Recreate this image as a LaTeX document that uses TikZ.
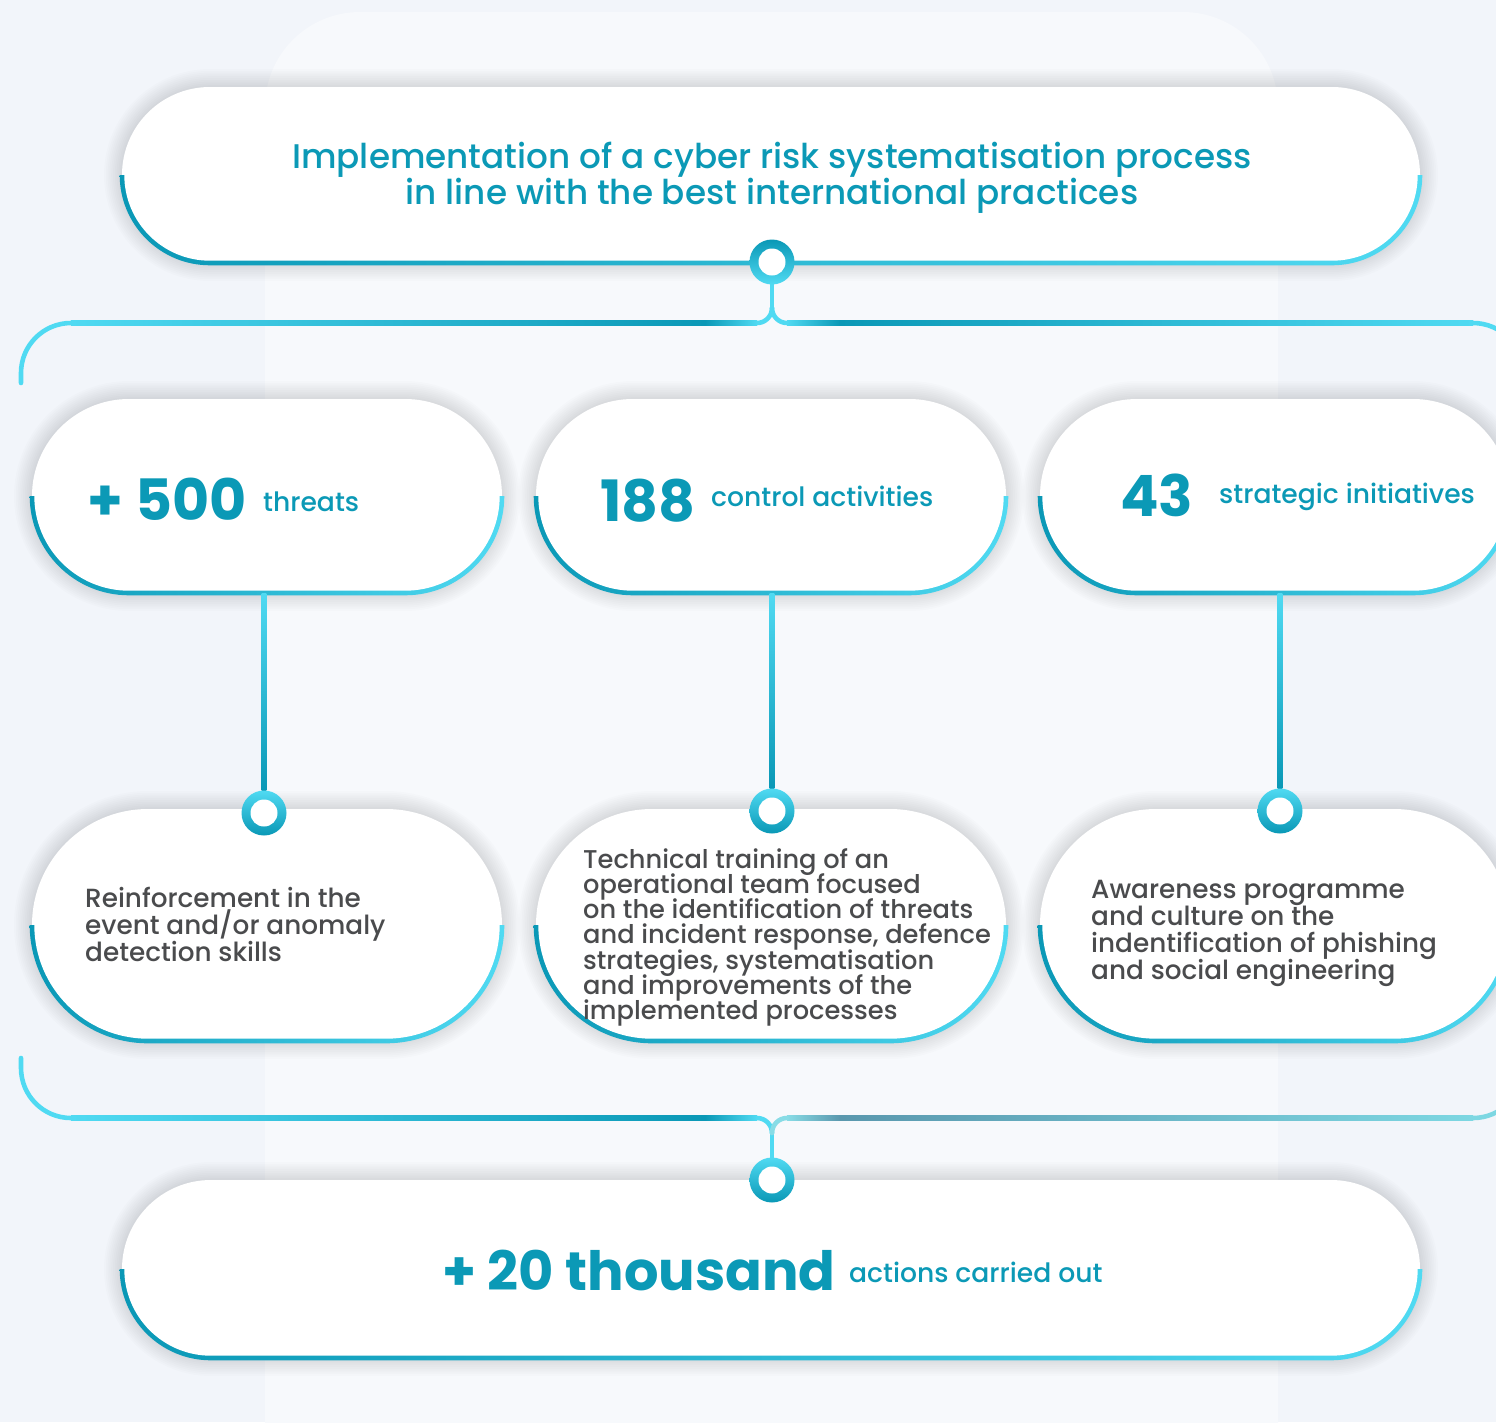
\documentclass[tikz,border=0pt]{standalone}
\usepackage{fontspec}
\setmainfont{Poppins}
\newfontfamily\medfont{Poppins Medium}
\usetikzlibrary{calc,shapes.misc}
\definecolor{cD}{HTML}{0A98B6}
\definecolor{cL}{HTML}{50DAF2}
\definecolor{cT}{HTML}{0B99B6}
\definecolor{cG}{HTML}{4A4B4D}
\definecolor{bgc}{HTML}{F2F5FA}
\definecolor{panelc}{HTML}{F7F9FC}
\definecolor{gT}{HTML}{5A98AE}
\definecolor{gL}{HTML}{88DCE6}
\definecolor{gE}{HTML}{7DD7E2}
\protected\def\tightlines{\lineskiplimit=-100pt\relax}

\newcommand\pill[5]{% name, x1, ytop, x2, ybot (image px, y down)
  \pgfmathsetmacro\pr{(#5-#3)/2}
  \pgfmathsetmacro\pw{#4-#2}
  \pgfmathsetmacro\ph{#5-#3}
  \foreach \k in {1,...,10}{%
    \pgfmathsetmacro\rr{\pr+\k*1.8}
    \fill[black,opacity=0.010,rounded corners=\rr pt] ({#2-\k*1.8},{-#3+\k*1.8}) rectangle ({#4+\k*1.8},{-#5-\k*1.8});
  }
  \node[pillnode,minimum width=\pw pt,minimum height=\ph pt] (#1) at ({(#2+#4)/2},{-(#3+#5)/2}) {};
  \begin{scope}
    \clip ({#2-10},{-(#3+#5)/2}) rectangle ({#4+10},{-#5-10});
    \pgfmathsetmacro\ro{\pr+2.3}
    \pgfmathsetmacro\ri{\pr-2.3}
    \shade[left color=cD,right color=cL,rounded corners=\ro pt] ({#2-2.3},{-#3+2.3}) rectangle ({#4+2.3},{-#5-2.3});
    \fill[white,rounded corners=\ri pt] ({#2+2.3},{-#3-2.3}) rectangle ({#4-2.3},{-#5+2.3});
  \end{scope}
}
\newcommand\hseg[5]{% x1, x2, y, left colour, right colour
  \shade[left color=#4,right color=#5] (#1,{-#3+2.3}) rectangle (#2,{-#3-2.3});
}

\begin{document}
\begin{tikzpicture}[x=1pt,y=1pt,
  pillnode/.style={rounded rectangle,fill=white,inner sep=0pt,draw=none},
  ring/.style={circle,minimum size=45pt,inner sep=0pt},
  conn/.style={line width=4.6pt,line cap=round},
  titletext/.style={text=cT,font=\medfont\fontsize{34.2}{34}\selectfont,align=center,inner sep=0pt},
  numtext/.style={text=cT,font=\bfseries\fontsize{57}{60}\selectfont,inner sep=0pt,anchor=base west},
  bignum/.style={text=cT,font=\bfseries\fontsize{54.2}{60}\selectfont,inner sep=0pt,anchor=base west},
  labtext/.style={text=cT,font=\medfont\fontsize{26.6}{28}\selectfont,inner sep=0pt,anchor=base west},
  desctext/.style={text=cG,font=\medfont\fontsize{26.3}{26.9}\selectfont\tightlines,align=left,inner sep=0pt,anchor=north west},
  desctextb/.style={text=cG,font=\medfont\fontsize{25.7}{25.3}\selectfont\tightlines,align=left,inner sep=0pt,anchor=north west}
]
\useasboundingbox (0,0) rectangle (1496,-1422);
\clip (0,0) rectangle (1496,-1422);
\fill[bgc] (0,0) rectangle (1496,-1422);
\fill[panelc,rounded corners=95pt] (265,-12) rectangle (1278,-1520);

% pills
\pill{top}{122}{87}{1420}{263}
\pill{p1}{32}{399}{502}{593}
\pill{p2}{536}{399}{1006}{593}
\pill{p3}{1040}{399}{1510}{593}
\pill{d1}{32}{809}{502}{1041}
\pill{d2}{536}{809}{1006}{1041}
\pill{d3}{1040}{809}{1510}{1041}
\pill{bot}{122}{1180}{1420}{1358}

% circles (nodes)
\node[ring] (c0) at (772,-262) {};
\node[ring] (c1) at (264,-813) {};
\node[ring] (c2) at (772,-811) {};
\node[ring] (c3) at (1280,-811) {};
\node[ring] (c4) at (772,-1180) {};

% top bracket
\coordinate (tsplit) at (772,-308);
\draw[conn,cL] (c0.south) -- (tsplit);
\draw[conn,cL] (tsplit) arc[start angle=0,end angle=-90,radius=15];
\draw[conn,cL] (tsplit) arc[start angle=180,end angle=270,radius=15];
\coordinate (tl) at (21,-383);
\draw[conn,cL] (tl) -- (21,-373) arc[start angle=180,end angle=90,radius=50];
\hseg{71}{705}{323}{cL}{cD}
\hseg{705}{757}{323}{cD}{cL}
\hseg{787}{840}{323}{cL}{cD}
\hseg{840}{1473}{323}{cD}{cL}
\coordinate (tr) at (1523,-390);
\draw[conn,cL] (1473,-323) arc[start angle=90,end angle=0,radius=50] -- (tr);

% bottom bracket
\coordinate (bsplit) at (772,-1133);
\draw[conn,cL] (c4.north) -- (bsplit);
\draw[conn,cL] (bsplit) arc[start angle=0,end angle=90,radius=15];
\draw[conn,gL] (bsplit) arc[start angle=180,end angle=90,radius=15];
\coordinate (bl) at (21,-1058);
\draw[conn,cL] (bl) -- (21,-1068) arc[start angle=180,end angle=270,radius=50];
\hseg{71}{705}{1118}{cL}{cD}
\hseg{705}{757}{1118}{cD}{cL}
\hseg{787}{840}{1118}{gL}{gT}
\hseg{840}{1473}{1118}{gT}{gE}
\coordinate (br) at (1523,-1050);
\draw[conn,gE] (1473,-1118) arc[start angle=270,end angle=360,radius=50] -- (br);

% vertical connectors
\foreach \p/\c in {p1/c1,p2/c2,p3/c3}{
  \shade[top color=cL,bottom color=cD] ($(\p.south -| \c.north)+(-2.3,0)$) rectangle ($(\c.north)+(2.3,0)$);
}

% ring drawing
\shade[top color=cD,bottom color=cL] (c0.center) circle (22.5);
\fill[white] (c0.center) circle (13.5);
\foreach \c in {c1,c2,c3,c4}{
  \shade[top color=cL,bottom color=cD] (\c.center) circle (22.5);
  \fill[white] (\c.center) circle (13.5);
}

% texts
\node[titletext] (ttl) at (772,-178) {Implementation of a cyber risk systematisation process\\in line with the best international practices};

\node[numtext] (n1) at (87,-520) {+ 500};
\node[labtext] (l1) at (263,-511) {threats};
\node[numtext] (n2) at (600,-521) {188};
\node[labtext] (l2) at (711,-506) {control activities};
\node[numtext] (n3) at (1120,-516) {43};
\node[labtext] (l3) at (1219,-503) {strategic initiatives};

\node[desctext] (t1) at (85,-887) {Reinforcement in the\\event and/or anomaly\\detection skills};
\node[desctextb] (t2) at (583,-848) {Technical training of an\\operational team focused\\on the identification of threats\\and incident response, defence\\strategies, systematisation\\and improvements of the\\implemented processes};
\node[desctext] (t3) at (1091,-880) {Awareness programme\\and culture on the\\indentification of phishing\\and social engineering};

\node[bignum] (n4) at (442,-1290) {+ 20 thousand};
\node[labtext] (l4) at (849,-1282) {actions carried out};
\end{tikzpicture}
\end{document}
